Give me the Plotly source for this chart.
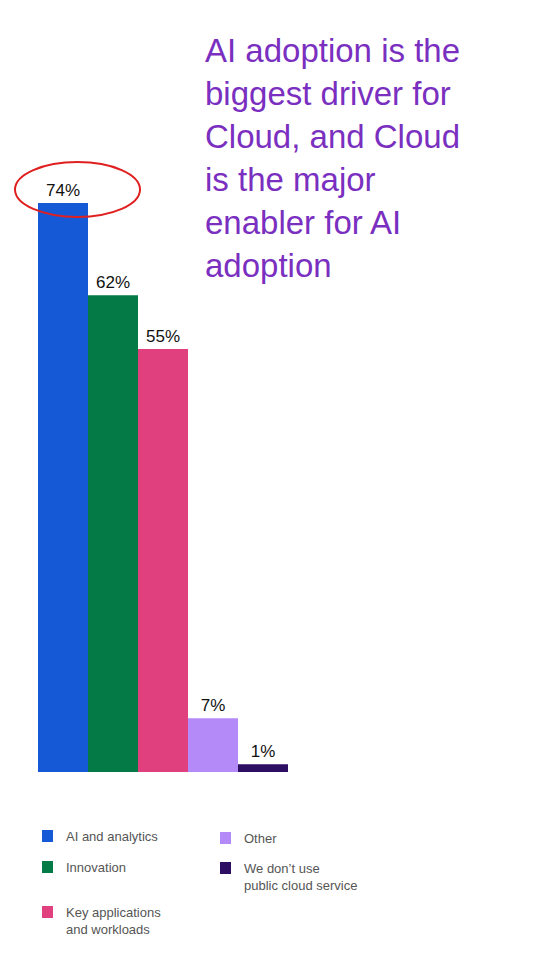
import plotly.graph_objects as go

categories = ["AI and analytics", "Innovation", "Key applications<br>and workloads",
              "Other", "We don\u2019t use<br>public cloud service"]
values = [74, 62, 55, 7, 1]
colors = ["#1659D6", "#047A47", "#E0407D", "#B48AF8", "#2D0E63"]
title_text = ("AI adoption is the<br>biggest driver for<br>Cloud, and Cloud<br>"
              "is the major<br>enabler for AI<br>adoption")

OFF = 8                # page body margin
W, H = 540 - 2 * OFF, 954 - 2 * OFF
px_x = 50.0            # pixels per bar
px_y = 7.69            # pixels per percent
left0, base = 38 - OFF, 772 - OFF


def px(x):
    return (x - OFF) / W


def py(y):
    return 1 - (y - OFF) / H


fig = go.Figure(go.Bar(
    x=list(range(len(values))), y=values, width=1,
    marker=dict(color=colors, line=dict(width=0)),
    text=[f"{v}%" for v in values], textposition="outside",
    textfont=dict(size=17, color="#111", family="Liberation Sans"),
    cliponaxis=False, showlegend=False,
))

x0 = -0.5 - left0 / px_x
fig.update_xaxes(range=[x0, x0 + W / px_x], visible=False, fixedrange=True)
fig.update_yaxes(range=[-(H - base) / px_y, base / px_y], visible=False)

shapes = [dict(type="rect", xref="paper", yref="paper", x0=px(3), y0=py(951),
               x1=px(537), y1=py(3), line=dict(color="#7A2FC0", width=3)),
          dict(type="circle", xref="paper", yref="paper",
               x0=px(15), x1=px(140), y0=py(217), y1=py(162),
               line=dict(color="#E02020", width=2))]
annotations = [dict(xref="paper", yref="paper", x=px(203), y=py(30),
                    xanchor="left", yanchor="top", align="left",
                    text=title_text, showarrow=False,
                    font=dict(size=33, color="#7A2FC0", family="Liberation Sans"))]

# manual two-column legend
legend_pos = [(42, 836), (42, 867), (42, 912), (220, 838), (220, 868)]
for (lx, ly), name, c in zip(legend_pos, categories, colors):
    shapes.append(dict(type="rect", xref="paper", yref="paper",
                       x0=px(lx), x1=px(lx + 11), y0=py(ly + 6), y1=py(ly - 6),
                       fillcolor=c, line=dict(width=0)))
    annotations.append(dict(xref="paper", yref="paper", x=px(lx + 22), y=py(ly - 9),
                            xanchor="left", yanchor="top", align="left", text=name,
                            showarrow=False,
                            font=dict(size=13, color="#555", family="Liberation Sans")))

fig.update_layout(width=W, height=H, margin=dict(l=0, r=0, t=0, b=0),
                  paper_bgcolor="white", plot_bgcolor="white",
                  shapes=shapes, annotations=annotations)

fig.write_html("out.html")
